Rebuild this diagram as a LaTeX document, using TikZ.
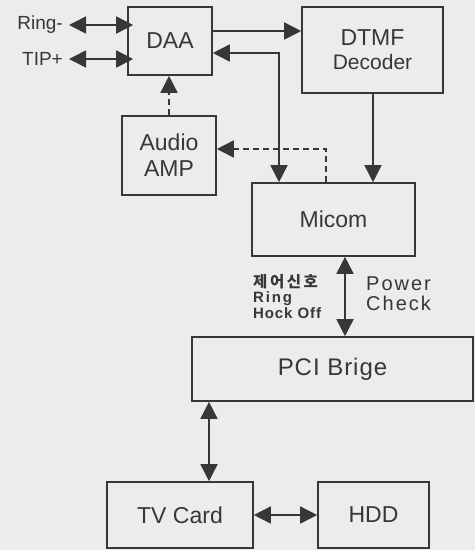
\documentclass[tikz,border=0pt]{standalone}
\usepackage{fontspec}
\setmainfont{Liberation Sans}
\newfontfamily\krfont{Noto Sans CJK KR}
\usetikzlibrary{arrows.meta,positioning,calc}
\definecolor{paper}{RGB}{236,236,236}
\definecolor{ink}{RGB}{55,55,55}

\begin{document}
\begin{tikzpicture}[
  x=1pt, y=-1pt,
  font=\fontsize{23}{26}\selectfont,
  every node/.style={text=ink},
  box/.style={draw=ink, line width=1.6pt, align=center, inner sep=0pt},
  arr/.style={draw=ink, line width=1.6pt, -{Triangle[length=17pt,width=17pt]}},
  dbl/.style={arr, {Triangle[length=17pt,width=17pt]}-{Triangle[length=17pt,width=17pt]}},
  dsh/.style={arr, dash pattern=on 6pt off 4pt}
]
\fill[paper] (0,0) rectangle (475,550);
\useasboundingbox (0,0) rectangle (475,550);

\node[box, minimum width=84pt, minimum height=68pt] (daa) at (170,41) {DAA};
\node[box, minimum width=141pt, minimum height=86pt] (dtmf) at (372.5,50)
  {DTMF\\[-2pt] {\fontsize{21}{24}\selectfont Decoder}};
\node[box, minimum width=94pt, minimum height=79pt] (amp) at (169,155.5) {Audio\\ AMP};
\node[box, minimum width=163pt, minimum height=73pt] (micom) at (333.5,219.5) {Micom};
\node[box, minimum width=281pt, minimum height=64pt] (pci) at (332.5,369)
  {\fontsize{24}{26}\selectfont\addfontfeatures{LetterSpace=4}PCI Brige};
\node[box, minimum width=146pt, minimum height=66pt] (tv) at (180,515) {TV Card};
\node[box, minimum width=111pt, minimum height=66pt] (hdd) at (373.5,515) {HDD};

\node[anchor=east, inner sep=0pt, font=\fontsize{19}{22}\selectfont] (ring) at (63,25) {Ring-};
\node[anchor=east, inner sep=0pt, font=\fontsize{19}{22}\selectfont] (tip) at (63,59) {TIP+};

% control signal labels
\node[anchor=north west, inner sep=0pt, align=left,
      font=\bfseries\fontsize{15}{15.5}\selectfont] (ctl) at (253,274)
  {{\krfont\bfseries\fontsize{15.5}{15.5}\selectfont 제\,어\,신\,호}\\
   {\addfontfeatures{LetterSpace=12}Ring}\\
   {\addfontfeatures{LetterSpace=6}Hock Off}};
\node[anchor=north west, inner sep=0pt, align=left,
      font=\fontsize{20}{20}\selectfont\addfontfeatures{LetterSpace=10}] (pwr) at (366,277)
  {Power\\ Check};

\draw[dbl] ([xshift=6pt]ring.east) -- ([xshift=6pt]ring.east -| daa.west);
\draw[dbl] ([xshift=6pt]tip.east) -- ([xshift=6pt]tip.east -| daa.west);
\draw[arr] ([yshift=10pt]daa.east) -- ([yshift=10pt]daa.east -| dtmf.west);
\draw[dbl] ([yshift=-12pt]daa.east) -| ([xshift=-54.5pt]micom.north);
\draw[dsh] (amp.north) -- (amp.north |- daa.south);
\draw[dsh] ([xshift=-7.5pt]micom.north) |- ([yshift=6.5pt]amp.east);
\draw[arr] ([xshift=0.5pt]dtmf.south) -- ([xshift=0.5pt]dtmf.south |- micom.north);
\draw[dbl] ([xshift=11.5pt]micom.south) -- ([xshift=11.5pt]micom.south |- pci.north);
\draw[dbl] ([xshift=29pt]tv.north) -- ([xshift=29pt]tv.north |- pci.south);
\draw[dbl] (tv.east) -- (hdd.west);
\end{tikzpicture}
\end{document}
